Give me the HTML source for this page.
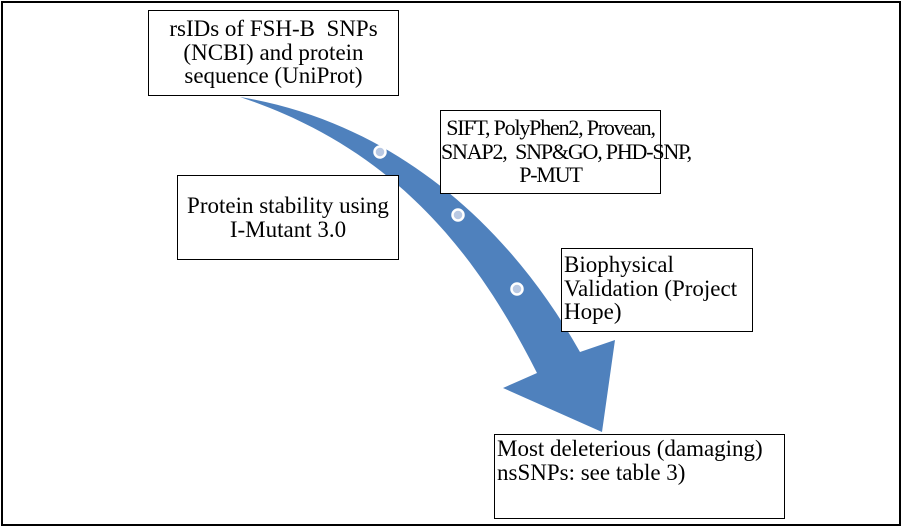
<!DOCTYPE html>
<html><head><style>
body{margin:0;width:902px;height:527px;background:#fff;position:relative;overflow:hidden;font-family:"Liberation Serif",serif;font-size:23px;line-height:23.5px;color:#000}
.o{position:absolute;left:1px;top:1px;width:896px;height:521px;border:2px solid #000}
.b{position:absolute;border:1px solid #000;background:#fff;box-sizing:border-box;white-space:nowrap}
svg{position:absolute;left:0;top:0}
</style></head><body>
<div class="o"></div>
<svg width="902" height="527">
<path d="M240,97 C380,120 500,210 580,352 L615,340 L602,432 L503,388 L537,373 C480,260 400,150 240,97 Z" fill="#4f81bd"/>
<g fill="#b9c9e3" stroke="#fff" stroke-width="2.5"><circle cx="380" cy="152" r="5.5"/><circle cx="458" cy="215" r="5.5"/><circle cx="517" cy="289" r="5.5"/></g>
</svg>
<div class="b" style="left:148px;top:10px;width:251px;height:86px;text-align:center;padding-top:6px">rsIDs of FSH-B&nbsp; SNPs<br>(NCBI) and protein<br>sequence (UniProt)</div>
<div class="b" style="left:440px;top:110px;width:221px;height:84px;text-align:center;padding-top:5px;font-size:22px;letter-spacing:-1.2px">SIFT, PolyPhen2, Provean,<br>SNAP2,&nbsp; SNP&amp;GO, PHD-SNP,<br>P-MUT</div>
<div class="b" style="left:177px;top:175px;width:222px;height:85px;text-align:center;padding-top:18px">Protein stability using<br>I-Mutant 3.0</div>
<div class="b" style="left:561px;top:248px;width:192px;height:84px;padding:4px 0 0 2px">Biophysical<br>Validation (Project<br>Hope)</div>
<div class="b" style="left:494px;top:434px;width:291px;height:85px;padding:2px 0 0 2px">Most deleterious (damaging)<br>nsSNPs: see table 3)</div>
</body></html>
